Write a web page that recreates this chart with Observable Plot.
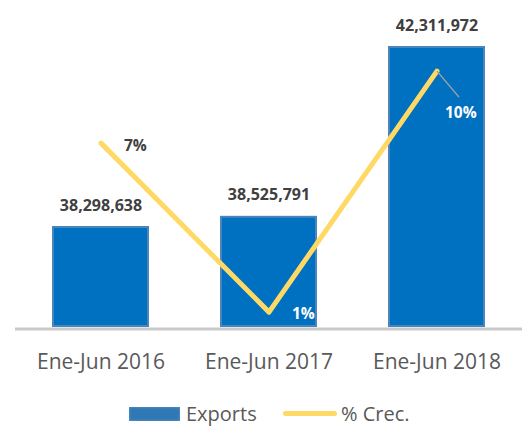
<!DOCTYPE html>
<html>
<head>
<meta charset="utf-8">
<script src="https://cdn.jsdelivr.net/npm/d3@7"></script>
<script src="https://cdn.jsdelivr.net/npm/@observablehq/plot@0.6"></script>
<style>
  html, body { margin: 0; padding: 0; background: #fff; }
  #wrap { position: relative; width: 524px; height: 426px; font-family: "Open Sans", sans-serif; }
  #legend { position: absolute; left: 0; top: 400px; width: 524px; height: 26px; }
  .sw-bar { position: absolute; left: 129px; top: 7px; width: 51px; height: 14px; background: #2f78b4; box-shadow: inset 0 0 3px #6a9cc8; }
  .sw-line { position: absolute; left: 283px; top: 11px; width: 54px; height: 5px; border-radius: 3px; background: #ffd966; }
  .lg-txt { position: absolute; top: 0px; font-size: 20px; color: #595959; line-height: 28px; }
</style>
</head>
<body>
<div id="wrap">
  <div id="chart"></div>
  <div id="legend">
    <div class="sw-bar"></div><div class="lg-txt" style="left:186px">Exports</div>
    <div class="sw-line"></div><div class="lg-txt" style="left:341px">% Crec.</div>
  </div>
</div>
<script>
const categories = ["Ene-Jun 2016", "Ene-Jun 2017", "Ene-Jun 2018"];
const exportsValues = [38298638, 38525791, 42311972];
const growthPct = [7.07, 0.59, 9.83];
const growthLabels = ["7%", "1%", "10%"];

const data = categories.map((c, i) => ({cat: c, exp: exportsValues[i], pct: growthPct[i], lbl: growthLabels[i], i}));

const yMin = 36.047e6, yMax = 43.115e6;
const pctMax = 12.155;
// map secondary (%) axis onto the primary scale
const pctToY = d3.scaleLinear().domain([0, pctMax]).range([yMin, yMax]);
data.forEach(d => d.py = pctToY(d.pct));

const fmt = d3.format(",");
const pctText = (i, opts) => Plot.text([data[i]], {x: "cat", y: "py", text: "lbl", textAnchor: "start",
  fontSize: 15.5, fontWeight: "bold", ...opts});

const chart = Plot.plot({
  width: 524,
  height: 385,
  marginTop: 10,
  marginBottom: 58,
  marginLeft: 15,
  marginRight: 2,
  style: {fontFamily: "Open Sans, sans-serif", background: "white"},
  x: {domain: categories, paddingInner: 0.425, paddingOuter: 0.215, label: null},
  y: {domain: [yMin, yMax], axis: null},
  marks: [
    Plot.barY(data, {x: "cat", y1: yMin, y2: "exp", fill: "#0070c0", stroke: "#4a86bc", strokeWidth: 2, inset: 1}),
    Plot.ruleY([yMin], {stroke: "#c9c9c9", strokeWidth: 3, dy: 1.5}),
    Plot.axisX({tickSize: 0, tickPadding: 27, fontSize: 21, fill: "#595959", label: null}),
    Plot.text(data, {x: "cat", y: "exp", text: d => fmt(d.exp), dy: -21, fontSize: 16, fontWeight: "bold", fill: "#404040"}),
    Plot.line(data, {x: "cat", y: "py", stroke: "#ffd966", strokeWidth: 5, strokeLinecap: "round", strokeLinejoin: "round"}),
    // leader line for the 10% label
    Plot.link([data[2]], {x1: "cat", y1: "py", x2: "cat", y2: "py", stroke: "#a0a0a0", strokeWidth: 1.5,
      render: (index, scales, values, dims, ctx, next) => {
        const g = next(index, scales, values, dims, ctx);
        d3.select(g).selectAll("path").attr("d", (_, k) => {
          const i = index[k];
          const x = values.x1[i], y = values.y1[i];
          return `M${x},${y}L${x + 22},${y + 26}`;
        });
        return g;
      }}),
    pctText(0, {dx: 23, dy: 3, fill: "#404040"}),
    pctText(1, {dx: 23, dy: 2, fill: "white"}),
    pctText(2, {dx: 8, dy: 42, fill: "white"})
  ]
});
document.getElementById("chart").appendChild(chart);
</script>
</body>
</html>
